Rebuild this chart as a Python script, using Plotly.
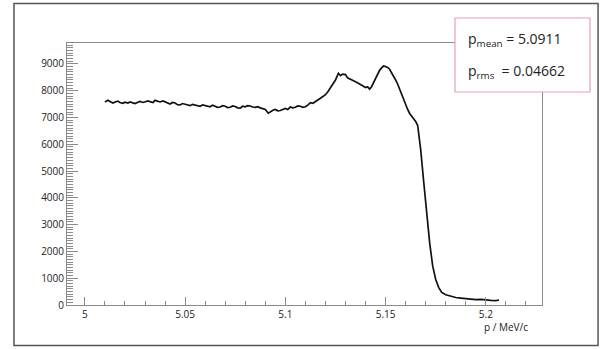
import plotly.graph_objects as go

# momentum bins (MeV/c) and counts
p_vals = [5.0100, 5.0115, 5.0125, 5.0140, 5.0150, 5.0165, 5.0175, 5.0190, 5.0200, 5.0215,
          5.0225, 5.0240, 5.0250, 5.0265, 5.0275, 5.0290, 5.0300, 5.0315, 5.0325, 5.0340,
          5.0350, 5.0365, 5.0375, 5.0390, 5.0400, 5.0412, 5.0425, 5.0437, 5.0450, 5.0462,
          5.0475, 5.0487, 5.0500, 5.0512, 5.0525, 5.0537, 5.0550, 5.0562, 5.0575, 5.0587,
          5.0600, 5.0612, 5.0625, 5.0637, 5.0650, 5.0662, 5.0675, 5.0687, 5.0700, 5.0712,
          5.0725, 5.0737, 5.0750, 5.0762, 5.0775, 5.0787, 5.0800, 5.0812, 5.0825, 5.0837,
          5.0850, 5.0862, 5.0875, 5.0887, 5.0900, 5.0915, 5.0930, 5.0940, 5.0950, 5.0962,
          5.0975, 5.0987, 5.1000, 5.1012, 5.1025, 5.1037, 5.1050, 5.1062, 5.1075, 5.1087,
          5.1100, 5.1112, 5.1125, 5.1137, 5.1150, 5.1162, 5.1175, 5.1187, 5.1200, 5.1212,
          5.1225, 5.1237, 5.1250, 5.1265, 5.1275, 5.1285, 5.1300, 5.1310, 5.1320, 5.1330,
          5.1340, 5.1350, 5.1360, 5.1370, 5.1380, 5.1390, 5.1400, 5.1410, 5.1420, 5.1430,
          5.1440, 5.1450, 5.1460, 5.1470, 5.1480, 5.1490, 5.1500, 5.1510, 5.1520, 5.1530,
          5.1540, 5.1550, 5.1560, 5.1570, 5.1580, 5.1590, 5.1600, 5.1610, 5.1620, 5.1630,
          5.1640, 5.1650, 5.1660, 5.1675, 5.1690, 5.1705, 5.1720, 5.1735, 5.1750, 5.1765,
          5.1780, 5.1800, 5.1825, 5.1850, 5.1875, 5.1900, 5.1925, 5.1950, 5.1975, 5.2000,
          5.2025, 5.2050, 5.2065]
counts = [7580, 7640, 7600, 7540, 7580, 7610, 7560, 7530, 7570, 7540,
          7580, 7550, 7520, 7570, 7600, 7560, 7580, 7620, 7590, 7560,
          7640, 7610, 7580, 7620, 7580, 7540, 7500, 7560, 7540, 7480,
          7470, 7520, 7490, 7450, 7440, 7490, 7470, 7430, 7420, 7470,
          7450, 7410, 7400, 7460, 7430, 7380, 7390, 7440, 7420, 7370,
          7380, 7430, 7410, 7360, 7350, 7420, 7400, 7440, 7430, 7390,
          7380, 7400, 7360, 7330, 7300, 7160, 7240, 7280, 7300, 7250,
          7260, 7310, 7340, 7300, 7390, 7360, 7380, 7430, 7420, 7380,
          7400, 7460, 7550, 7530, 7600, 7680, 7720, 7780, 7850, 7960,
          8100, 8250, 8400, 8650, 8560, 8620, 8600, 8480, 8450, 8420,
          8380, 8330, 8300, 8260, 8200, 8180, 8120, 8150, 8060, 8150,
          8300, 8480, 8600, 8760, 8850, 8920, 8900, 8870, 8800, 8680,
          8550, 8400, 8250, 8050, 7850, 7650, 7450, 7300, 7150, 7050,
          6950, 6850, 6700, 5800, 4600, 3300, 2300, 1450, 950, 650,
          470, 380, 320, 280, 260, 240, 220, 200, 210, 180,
          170, 160, 190]

x_ticks = [5.0, 5.05, 5.1, 5.15, 5.2]
x_labels = ["5", "5.05", "5.1", "5.15", "5.2"]
y_ticks = [0, 1000, 2000, 3000, 4000, 5000, 6000, 7000, 8000, 9000]
x_title = "p / MeV/c"
stat_lines = ["p<sub>mean</sub> = 5.0911", "p<sub>rms</sub>  = 0.04662"]

axis_col = "#8a8a8a"
font_fam = "Open Sans, Liberation Sans, sans-serif"

fig = go.Figure()
fig.add_trace(go.Scatter(x=p_vals, y=counts, mode="lines",
                         line=dict(color="#111111", width=1.7),
                         hoverinfo="skip", showlegend=False))

fig.update_layout(
    width=602, height=349,
    margin=dict(l=67, r=60, t=43, b=44),
    paper_bgcolor="white", plot_bgcolor="white",
    font=dict(family=font_fam, size=10, color="#222222"),
    xaxis=dict(range=[4.9911, 5.228], tickvals=x_ticks, ticktext=x_labels,
               ticks="inside", ticklen=8, tickcolor=axis_col, tickwidth=1,
               showline=True, linecolor=axis_col, linewidth=1, mirror=True,
               showgrid=False, zeroline=False,
               minor=dict(dtick=0.01, ticks="inside", ticklen=4, tickcolor=axis_col, showgrid=False),
               tickfont=dict(size=10, color="#222222")),
    yaxis=dict(range=[0, 9780], tickvals=y_ticks,
               ticks="inside", ticklen=11, tickcolor=axis_col, tickwidth=1,
               showline=True, linecolor=axis_col, linewidth=1, mirror=True,
               showgrid=False, zeroline=False,
               minor=dict(dtick=100, ticks="inside", ticklen=6, tickcolor=axis_col, showgrid=False),
               tickfont=dict(size=10, color="#222222")),
)

# outer canvas frame
fig.add_shape(type="rect", xref="paper", yref="paper",
              x0=-0.1116, x1=1.118, y0=-0.1545, y1=1.151,
              line=dict(color="#555555", width=1.5), fillcolor="rgba(0,0,0,0)", layer="above")
# stats box
fig.add_shape(type="rect", xref="paper", yref="paper",
              x0=0.8168, x1=1.101, y0=0.813, y1=1.0954,
              line=dict(color="#e8a0b0", width=1.2), fillcolor="white", layer="above")

fig.add_annotation(xref="paper", yref="paper", x=0.84, y=1.0135, xanchor="left", yanchor="middle",
                   text=stat_lines[0], showarrow=False,
                   font=dict(family=font_fam, size=14, color="#222222"))
fig.add_annotation(xref="paper", yref="paper", x=0.84, y=0.892, xanchor="left", yanchor="middle",
                   text=stat_lines[1], showarrow=False,
                   font=dict(family=font_fam, size=14, color="#222222"))

fig.add_annotation(xref="paper", yref="paper", x=0.975, y=-0.05, xanchor="right", yanchor="top",
                   text=x_title, showarrow=False,
                   font=dict(family=font_fam, size=10, color="#222222"))

fig.write_html("out.html")
